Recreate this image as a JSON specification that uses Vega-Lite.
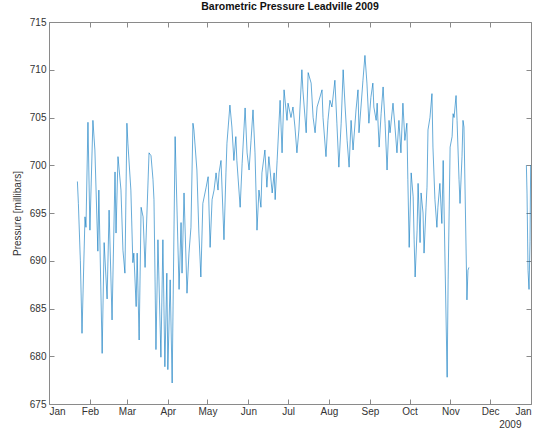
{
  "$schema": "https://vega.github.io/schema/vega-lite/v6.json",
  "width": 482,
  "height": 382,
  "autosize": "none",
  "padding": {"left": 49, "top": 22, "right": 8, "bottom": 32},
  "background": "white",
  "config": {
    "font": "Liberation Sans",
    "view": {"stroke": "#8a8a8a", "strokeWidth": 1},
    "axis": {"grid": false, "domain": false, "tickColor": "#8a8a8a", "tickSize": -5, "labelColor": "#333", "labelFontSize": 10, "labelFont": "Liberation Sans", "titleFont": "Liberation Sans", "titleColor": "#333", "titleFontWeight": "normal", "titleFontSize": 10}
  },
  "title": {"text": "Barometric Pressure Leadville 2009", "fontSize": 10.5, "fontWeight": "bold", "color": "#111", "offset": 5, "font": "Liberation Sans"},
  "data": {"values": [
    {"t": "2009-01-22T12:00", "p": 698.3},
    {"t": "2009-01-23T06:00", "p": 696.0},
    {"t": "2009-01-24T18:00", "p": 690.0},
    {"t": "2009-01-26T00:00", "p": 682.4},
    {"t": "2009-01-28T06:00", "p": 694.6},
    {"t": "2009-01-29T00:00", "p": 693.5},
    {"t": "2009-01-30T12:00", "p": 704.5},
    {"t": "2009-02-01T00:00", "p": 693.2},
    {"t": "2009-02-03T06:00", "p": 704.7},
    {"t": "2009-02-04T18:00", "p": 701.6},
    {"t": "2009-02-07T00:00", "p": 691.0},
    {"t": "2009-02-07T18:00", "p": 697.4},
    {"t": "2009-02-10T06:00", "p": 680.3},
    {"t": "2009-02-11T18:00", "p": 691.9},
    {"t": "2009-02-14T00:00", "p": 686.0},
    {"t": "2009-02-15T12:00", "p": 695.3},
    {"t": "2009-02-17T18:00", "p": 683.8},
    {"t": "2009-02-20T00:00", "p": 699.3},
    {"t": "2009-02-20T18:00", "p": 692.9},
    {"t": "2009-02-22T06:00", "p": 700.9},
    {"t": "2009-02-24T12:00", "p": 697.4},
    {"t": "2009-02-26T00:00", "p": 691.1},
    {"t": "2009-02-27T12:00", "p": 688.7},
    {"t": "2009-03-01T00:00", "p": 704.4},
    {"t": "2009-03-01T18:00", "p": 702.3},
    {"t": "2009-03-04T00:00", "p": 697.4},
    {"t": "2009-03-05T12:00", "p": 689.8},
    {"t": "2009-03-06T06:00", "p": 690.8},
    {"t": "2009-03-08T00:00", "p": 685.2},
    {"t": "2009-03-08T18:00", "p": 690.8},
    {"t": "2009-03-10T06:00", "p": 681.7},
    {"t": "2009-03-11T18:00", "p": 695.6},
    {"t": "2009-03-13T06:00", "p": 694.6},
    {"t": "2009-03-14T18:00", "p": 689.3},
    {"t": "2009-03-17T18:00", "p": 701.3},
    {"t": "2009-03-19T06:00", "p": 701.0},
    {"t": "2009-03-20T18:00", "p": 698.5},
    {"t": "2009-03-21T12:00", "p": 696.4},
    {"t": "2009-03-23T00:00", "p": 680.7},
    {"t": "2009-03-24T12:00", "p": 692.2},
    {"t": "2009-03-26T18:00", "p": 679.9},
    {"t": "2009-03-28T06:00", "p": 692.2},
    {"t": "2009-03-29T18:00", "p": 678.9},
    {"t": "2009-03-31T06:00", "p": 688.7},
    {"t": "2009-04-01T00:00", "p": 678.6},
    {"t": "2009-04-02T18:00", "p": 688.0},
    {"t": "2009-04-04T06:00", "p": 677.2},
    {"t": "2009-04-06T12:00", "p": 703.0},
    {"t": "2009-04-09T12:00", "p": 687.0},
    {"t": "2009-04-11T00:00", "p": 694.0},
    {"t": "2009-04-11T18:00", "p": 688.7},
    {"t": "2009-04-13T06:00", "p": 697.1},
    {"t": "2009-04-15T12:00", "p": 686.6},
    {"t": "2009-04-17T00:00", "p": 690.8},
    {"t": "2009-04-18T12:00", "p": 693.5},
    {"t": "2009-04-20T00:00", "p": 704.4},
    {"t": "2009-04-20T18:00", "p": 703.7},
    {"t": "2009-04-23T00:00", "p": 699.5},
    {"t": "2009-04-24T12:00", "p": 692.9},
    {"t": "2009-04-26T00:00", "p": 688.3},
    {"t": "2009-04-27T12:00", "p": 696.0},
    {"t": "2009-04-30T00:00", "p": 697.7},
    {"t": "2009-05-01T12:00", "p": 698.8},
    {"t": "2009-05-03T00:00", "p": 691.4},
    {"t": "2009-05-04T12:00", "p": 696.4},
    {"t": "2009-05-06T00:00", "p": 697.4},
    {"t": "2009-05-07T12:00", "p": 699.2},
    {"t": "2009-05-09T00:00", "p": 697.4},
    {"t": "2009-05-09T18:00", "p": 699.2},
    {"t": "2009-05-11T06:00", "p": 700.5},
    {"t": "2009-05-13T12:00", "p": 692.2},
    {"t": "2009-05-15T00:00", "p": 699.2},
    {"t": "2009-05-15T18:00", "p": 702.3},
    {"t": "2009-05-18T00:00", "p": 706.3},
    {"t": "2009-05-19T12:00", "p": 704.0},
    {"t": "2009-05-21T00:00", "p": 700.5},
    {"t": "2009-05-22T12:00", "p": 703.0},
    {"t": "2009-05-23T06:00", "p": 700.5},
    {"t": "2009-05-25T18:00", "p": 695.6},
    {"t": "2009-05-27T06:00", "p": 700.2},
    {"t": "2009-05-29T12:00", "p": 706.0},
    {"t": "2009-05-31T00:00", "p": 701.3},
    {"t": "2009-06-01T12:00", "p": 699.5},
    {"t": "2009-06-03T00:00", "p": 702.6},
    {"t": "2009-06-04T12:00", "p": 705.8},
    {"t": "2009-06-06T00:00", "p": 701.3},
    {"t": "2009-06-07T12:00", "p": 693.2},
    {"t": "2009-06-09T00:00", "p": 697.4},
    {"t": "2009-06-10T12:00", "p": 695.6},
    {"t": "2009-06-11T06:00", "p": 699.2},
    {"t": "2009-06-13T12:00", "p": 701.6},
    {"t": "2009-06-15T00:00", "p": 697.7},
    {"t": "2009-06-16T12:00", "p": 700.9},
    {"t": "2009-06-19T00:00", "p": 697.1},
    {"t": "2009-06-20T12:00", "p": 699.2},
    {"t": "2009-06-21T06:00", "p": 696.4},
    {"t": "2009-06-22T18:00", "p": 700.5},
    {"t": "2009-06-25T00:00", "p": 706.8},
    {"t": "2009-06-25T18:00", "p": 704.0},
    {"t": "2009-06-26T12:00", "p": 701.3},
    {"t": "2009-06-28T00:00", "p": 707.9},
    {"t": "2009-06-30T06:00", "p": 704.7},
    {"t": "2009-07-01T00:00", "p": 706.5},
    {"t": "2009-07-03T06:00", "p": 705.0},
    {"t": "2009-07-04T18:00", "p": 706.1},
    {"t": "2009-07-06T06:00", "p": 704.0},
    {"t": "2009-07-07T18:00", "p": 701.3},
    {"t": "2009-07-09T06:00", "p": 703.7},
    {"t": "2009-07-11T12:00", "p": 710.0},
    {"t": "2009-07-12T06:00", "p": 707.9},
    {"t": "2009-07-14T18:00", "p": 703.4},
    {"t": "2009-07-16T06:00", "p": 709.7},
    {"t": "2009-07-18T12:00", "p": 708.6},
    {"t": "2009-07-20T00:00", "p": 705.0},
    {"t": "2009-07-21T12:00", "p": 703.4},
    {"t": "2009-07-23T00:00", "p": 706.1},
    {"t": "2009-07-24T12:00", "p": 706.8},
    {"t": "2009-07-26T18:00", "p": 707.9},
    {"t": "2009-07-27T12:00", "p": 705.0},
    {"t": "2009-07-29T18:00", "p": 700.9},
    {"t": "2009-07-31T06:00", "p": 704.7},
    {"t": "2009-08-01T18:00", "p": 706.8},
    {"t": "2009-08-03T06:00", "p": 706.1},
    {"t": "2009-08-05T12:00", "p": 708.9},
    {"t": "2009-08-07T00:00", "p": 704.4},
    {"t": "2009-08-08T12:00", "p": 699.8},
    {"t": "2009-08-10T06:00", "p": 704.4},
    {"t": "2009-08-11T18:00", "p": 710.0},
    {"t": "2009-08-13T06:00", "p": 706.1},
    {"t": "2009-08-14T18:00", "p": 702.6},
    {"t": "2009-08-16T06:00", "p": 699.8},
    {"t": "2009-08-17T18:00", "p": 704.7},
    {"t": "2009-08-19T06:00", "p": 701.6},
    {"t": "2009-08-21T12:00", "p": 705.8},
    {"t": "2009-08-23T00:00", "p": 707.9},
    {"t": "2009-08-23T18:00", "p": 703.4},
    {"t": "2009-08-25T06:00", "p": 706.1},
    {"t": "2009-08-26T18:00", "p": 708.9},
    {"t": "2009-08-28T06:00", "p": 711.5},
    {"t": "2009-08-29T18:00", "p": 708.6},
    {"t": "2009-08-31T06:00", "p": 704.4},
    {"t": "2009-09-01T18:00", "p": 707.1},
    {"t": "2009-09-03T06:00", "p": 708.6},
    {"t": "2009-09-04T00:00", "p": 706.1},
    {"t": "2009-09-05T18:00", "p": 704.7},
    {"t": "2009-09-06T12:00", "p": 706.5},
    {"t": "2009-09-08T00:00", "p": 701.9},
    {"t": "2009-09-09T12:00", "p": 705.4},
    {"t": "2009-09-11T00:00", "p": 708.2},
    {"t": "2009-09-12T12:00", "p": 704.4},
    {"t": "2009-09-14T00:00", "p": 699.5},
    {"t": "2009-09-15T12:00", "p": 704.7},
    {"t": "2009-09-16T06:00", "p": 703.4},
    {"t": "2009-09-18T12:00", "p": 706.5},
    {"t": "2009-09-20T00:00", "p": 704.0},
    {"t": "2009-09-21T12:00", "p": 701.3},
    {"t": "2009-09-23T00:00", "p": 704.7},
    {"t": "2009-09-24T12:00", "p": 701.3},
    {"t": "2009-09-26T00:00", "p": 706.5},
    {"t": "2009-09-27T12:00", "p": 702.6},
    {"t": "2009-09-29T00:00", "p": 704.4},
    {"t": "2009-09-29T18:00", "p": 698.5},
    {"t": "2009-09-30T18:00", "p": 691.4},
    {"t": "2009-10-02T06:00", "p": 699.2},
    {"t": "2009-10-03T18:00", "p": 696.7},
    {"t": "2009-10-04T12:00", "p": 692.2},
    {"t": "2009-10-05T06:00", "p": 688.3},
    {"t": "2009-10-06T18:00", "p": 693.2},
    {"t": "2009-10-07T12:00", "p": 698.1},
    {"t": "2009-10-09T00:00", "p": 691.9},
    {"t": "2009-10-09T18:00", "p": 697.1},
    {"t": "2009-10-11T06:00", "p": 695.0},
    {"t": "2009-10-12T00:00", "p": 690.8},
    {"t": "2009-10-13T12:00", "p": 695.6},
    {"t": "2009-10-14T06:00", "p": 697.7},
    {"t": "2009-10-15T00:00", "p": 703.7},
    {"t": "2009-10-16T12:00", "p": 705.0},
    {"t": "2009-10-18T00:00", "p": 707.5},
    {"t": "2009-10-18T18:00", "p": 701.9},
    {"t": "2009-10-20T06:00", "p": 696.4},
    {"t": "2009-10-21T18:00", "p": 693.5},
    {"t": "2009-10-22T12:00", "p": 695.6},
    {"t": "2009-10-24T00:00", "p": 698.1},
    {"t": "2009-10-25T12:00", "p": 693.9},
    {"t": "2009-10-26T12:00", "p": 700.5},
    {"t": "2009-10-29T12:00", "p": 677.8},
    {"t": "2009-10-30T06:00", "p": 688.0},
    {"t": "2009-10-31T18:00", "p": 701.9},
    {"t": "2009-11-02T06:00", "p": 703.0},
    {"t": "2009-11-03T00:00", "p": 705.4},
    {"t": "2009-11-03T18:00", "p": 705.0},
    {"t": "2009-11-05T06:00", "p": 707.3},
    {"t": "2009-11-06T00:00", "p": 704.7},
    {"t": "2009-11-07T12:00", "p": 698.5},
    {"t": "2009-11-08T06:00", "p": 696.0},
    {"t": "2009-11-09T18:00", "p": 700.9},
    {"t": "2009-11-10T12:00", "p": 704.7},
    {"t": "2009-11-11T06:00", "p": 704.0},
    {"t": "2009-11-13T12:00", "p": 685.9},
    {"t": "2009-11-14T06:00", "p": 689.0},
    {"t": "2009-11-15T00:00", "p": 689.3},
    {"t": "2009-12-01T00:00", "p": null},
    {"t": "2009-12-28T12:00", "p": 700.0},
    {"t": "2009-12-29T00:00", "p": 697.0},
    {"t": "2009-12-29T18:00", "p": 689.0},
    {"t": "2009-12-30T12:00", "p": 687.0},
    {"t": "2009-12-31T06:00", "p": 692.0},
    {"t": "2009-12-31T18:00", "p": 700.0}
  ]},
  "layer": [
    {
      "mark": {"type": "line", "color": "#0072BD", "strokeWidth": 0.7, "opacity": 0.85, "invalid": "break-paths-show-domains", "clip": true},
      "encoding": {
        "x": {"field": "t", "type": "temporal",
          "scale": {"domain": [{"year": 2009, "month": 1, "date": 1}, {"year": 2010, "month": 1, "date": 1}], "nice": false},
          "axis": {"orient": "bottom", "format": "%b", "tickCount": {"interval": "month", "step": 1}, "labelPadding": 7, "labelOverlap": false, "title": "2009", "titleAnchor": "end", "titleAlign": "right", "titleX": 472, "titlePadding": 3}},
        "y": {"field": "p", "type": "quantitative",
          "scale": {"domain": [675, 715], "nice": false, "zero": false},
          "axis": {"orient": "left", "values": [675, 680, 685, 690, 695, 700, 705, 710, 715], "labelPadding": 8, "title": "Pressure [millibars]", "titlePadding": 7}}
      }
    },
    {
      "mark": {"type": "line", "opacity": 0, "invalid": "break-paths-show-domains"},
      "encoding": {
        "x": {"field": "t", "type": "temporal",
          "axis": {"orient": "top", "labels": false, "title": null, "tickCount": {"interval": "month", "step": 1}}},
        "y": {"field": "p", "type": "quantitative",
          "axis": {"orient": "right", "labels": false, "title": null, "values": [675, 680, 685, 690, 695, 700, 705, 710, 715]}}
      }
    }
  ],
  "resolve": {"axis": {"x": "independent", "y": "independent"}}
}
